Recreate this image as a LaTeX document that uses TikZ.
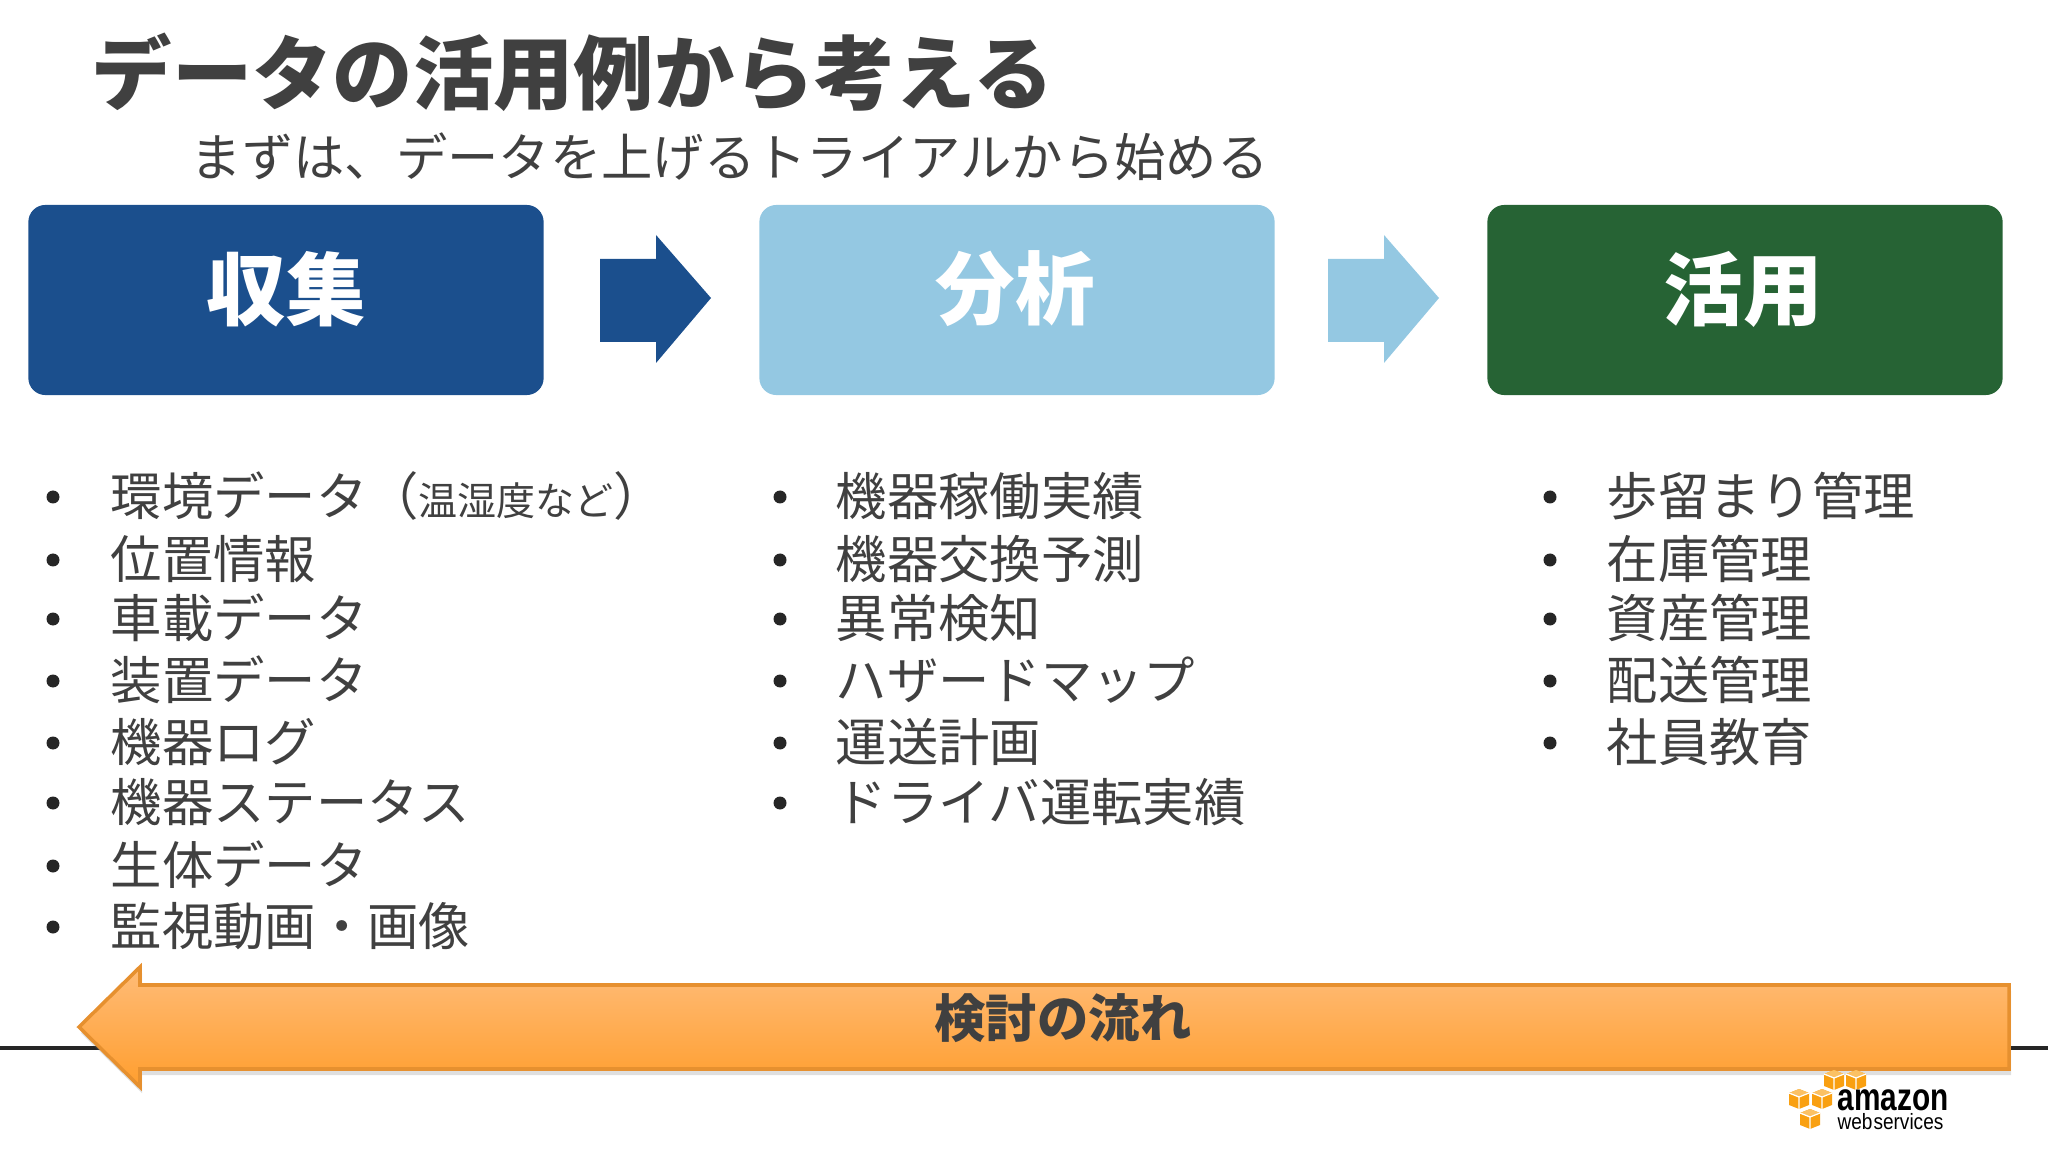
\documentclass[tikz,border=0pt]{standalone}
\usepackage{fontspec}
\usepackage{tikz}
\usetikzlibrary{shadows}
\setmainfont{Noto Sans CJK JP}
\newfontfamily\logofont{Liberation Sans}

\definecolor{textgray}{HTML}{404040}
\definecolor{collectblue}{HTML}{1B4F8D}
\definecolor{analyzeblue}{HTML}{94C8E2}
\definecolor{useGreen}{HTML}{266334}
\definecolor{flowedge}{HTML}{E6902F}
\definecolor{flowtop}{HTML}{FFBC78}
\definecolor{flowbottom}{HTML}{FF9E2E}
\definecolor{cubefill}{HTML}{F9A011}

\tikzset{
    titletext/.style={anchor=west,inner sep=0,text=textgray,font=\fontsize{22.85}{26}\selectfont\bfseries},
    subtext/.style={anchor=west,inner sep=0,text=textgray,font=\fontsize{14.6}{18}\selectfont},
    itemtext/.style={anchor=west,inner sep=0,text=textgray,font=\fontsize{14.6}{18}\selectfont},
    stagebox/.style={minimum width=5.15cm,minimum height=1.9cm,rounded corners=0.17cm,inner sep=0,fill=#1},
    stagetext/.style={inner sep=0,text=white,font=\fontsize{22.6}{26}\selectfont\bfseries},
    flowarrow/.style={draw=flowedge,line width=1pt,top color=flowtop,bottom color=flowbottom,
        drop shadow={shadow xshift=0.02cm,shadow yshift=-0.06cm,opacity=0.25}},
    awscube/.pic={
        \fill[cubefill] (-10,-6)--(0,-10)--(10,-6)--(10,6)--(0,10)--(-10,6)--cycle;
        \fill[cubefill!65!white] (-10,-6)--(0,-10)--(10,-6)--(0,-2)--cycle;
        \draw[white,line width=0.35pt] (-10,-6)--(0,-2)--(10,-6) (0,-2)--(0,10);
    }
}

\begin{document}
\begin{tikzpicture}[x=0.01cm,y=-0.01cm]
    \useasboundingbox (0,0) rectangle (2048,1152);

    \node[titletext] (title) at (91,72) {データの活用例から考える};
    \node[subtext] (subtitle) at (190,157) {まずは、データを上げるトライアルから始める};

    \node[stagebox=collectblue] (collect) at (286,300) {};
    \node[stagebox=analyzeblue] (analyze) at (1017,300) {};
    \node[stagebox=useGreen] (use) at (1745,300) {};
    \node[stagetext] (collectlabel) at (286,289) {収集};
    \node[stagetext] (analyzelabel) at (1015,289) {分析};
    \node[stagetext] (uselabel) at (1743,289) {活用};

    \fill[collectblue] (600,259)--(656,259)--(656,235)--(711,298)--(656,363)--(656,342)--(600,342)--cycle;
    \fill[analyzeblue] (1328,259)--(1384,259)--(1384,235)--(1439,298)--(1384,363)--(1384,342)--(1328,342)--cycle;

    % first column
    \foreach \y/\t [count=\i] in {496/{環境データ（{\fontsize{11.1}{12}\selectfont 温湿度など}）},
        559/位置情報,618/車載データ,680/装置データ,742/機器ログ,802/機器ステータス,865/生体データ,926/監視動画・画像}{
        \fill[black!85] (53,\y+1) circle (6.5);
        \node[itemtext] (collect\i) at (110,\y) {\t};
    }
    % second column
    \foreach \y/\t [count=\i] in {496/機器稼働実績,559/機器交換予測,618/異常検知,680/ハザードマップ,742/運送計画,802/ドライバ運転実績}{
        \fill[black!85] (780,\y+1) circle (6.5);
        \node[itemtext] (analyze\i) at (835,\y) {\t};
    }
    % third column
    \foreach \y/\t [count=\i] in {496/歩留まり管理,559/在庫管理,618/資産管理,680/配送管理,742/社員教育}{
        \fill[black!85] (1550,\y+1) circle (6.5);
        \node[itemtext] (use\i) at (1606,\y) {\t};
    }

    \draw[black!85,line width=1pt] (0,1048)--(2048,1048);
    \path[flowarrow] (79,1027)--(140,967)--(140,985)--(2009,985)--(2009,1069)--(140,1069)--(140,1087)--cycle;
    \node[inner sep=0,text=textgray,font=\fontsize{14.6}{18}\selectfont\bfseries] (flow) at (1063,1018) {検討の流れ};

    % logo
    \foreach \cx/\cy in {1834/1080,1856/1080,1799/1099,1822/1099,1810/1119}
        \pic at (\cx,\cy) {awscube};
    \node[anchor=base west,inner sep=0,xscale=0.77,transform shape,font=\logofont\bfseries\fontsize{11}{12}\selectfont] (amazon) at (1837,1110) {amazon};
    \node[anchor=base west,inner sep=0,xscale=0.86,transform shape,font=\logofont\fontsize{6.3}{8}\selectfont] (webservices) at (1837,1129) {web\hspace{0.05em}services};
\end{tikzpicture}
\end{document}
